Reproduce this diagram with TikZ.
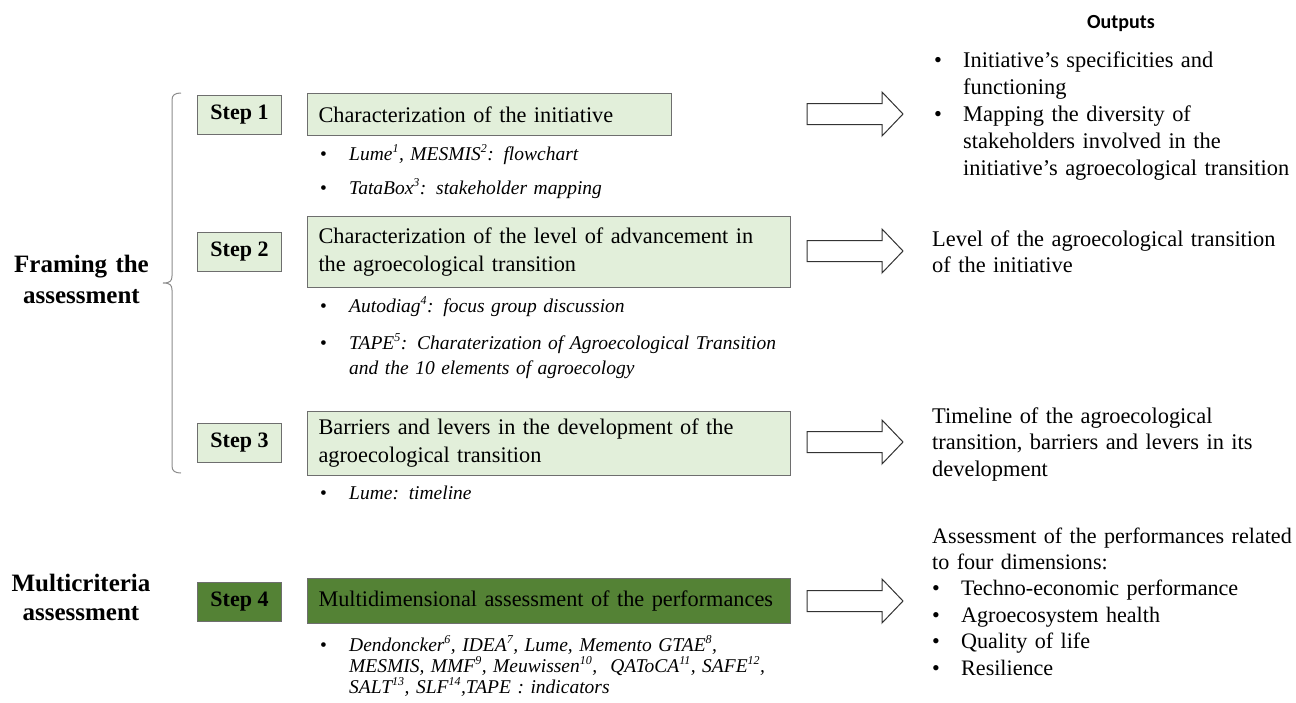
\documentclass[tikz,border=0pt]{standalone}
\usepackage{fontspec}
\setmainfont{Liberation Serif}
\newfontfamily\outfont{Carlito}
\definecolor{lgreen}{HTML}{E2EFDA}
\definecolor{dgreen}{HTML}{548235}
\definecolor{bordergray}{HTML}{6E6E6E}
\definecolor{bracegray}{HTML}{8C8C8C}
\newcommand{\bul}{\makebox[29pt][l]{\upshape\textbullet}}
\newcommand{\ind}{\hspace*{29pt}}
\newcommand{\sups}[1]{\textsuperscript{\fontsize{12}{12}\selectfont #1}}
\hyphenpenalty=10000
\exhyphenpenalty=10000
\begin{document}
\begin{tikzpicture}[x=1pt,y=-1pt,
  stepbox/.style={draw=bordergray, line width=1pt, fill=lgreen, minimum width=84pt, minimum height=39pt, inner sep=0pt, anchor=north west, font=\fontsize{22}{26}\selectfont\bfseries},
  mainbox/.style={draw=bordergray, line width=1pt, fill=lgreen, inner xsep=11pt, inner ysep=0pt, anchor=north west, align=left, font=\fontsize{22.3}{28}\selectfont},
  note/.style={anchor=base west, inner sep=0pt, align=left, text width=470pt, font=\fontsize{19.5}{25}\selectfont\itshape},
  outtext/.style={anchor=base west, inner sep=0pt, align=left, text width=362pt, font=\fontsize{22.4}{26.6}\selectfont},
  sidelabel/.style={anchor=base, inner sep=0pt, align=center, text width=170pt},
  arrowline/.style={draw=black!80, line width=1pt, fill=white},
  brace/.style={draw=bracegray, line width=1pt},
  blockarrow/.pic={\path[arrowline] (0,-10.5) -- (75,-10.5) -- (75,-22) -- (96,0) -- (75,22) -- (75,10.5) -- (0,10.5) -- cycle;}
]
\useasboundingbox (0,0) rectangle (1296,702);

% header
\node[anchor=base, inner sep=0pt, font=\outfont\bfseries\fontsize{20}{24}\selectfont] (outputs) at (1121,28) {Outputs};

% side labels
\node[sidelabel, font=\fontsize{25}{31}\selectfont\bfseries] (framing) at (81.5,272.5) {Framing the\\assessment};
\node[sidelabel, font=\fontsize{25}{29}\selectfont\bfseries] (multi) at (81,591.5) {Multicriteria\\assessment};

% brace
\draw[brace] (181,93) .. controls (175,93) and (172,95) .. (172,100) -- (172,276)
  .. controls (172,281) and (170,283) .. (163,283)
  .. controls (170,283) and (172,285) .. (172,290) -- (172,466)
  .. controls (172,471) and (175,473) .. (181,473);

% step boxes
\node[stepbox] (s1) at (197,95) {Step 1};
\node[stepbox] (s2) at (197,232) {Step 2};
\node[stepbox] (s3) at (197,423) {Step 3};
\node[stepbox, fill=dgreen] (s4) at (197,582) {Step 4};

% main boxes
\node[mainbox, text width=342pt, minimum height=42pt] (b1) at (307,93) {Characterization of the initiative};
\node[mainbox, text width=461pt, minimum height=71pt] (b2) at (307,216) {Characterization of the level of advancement in\\the agroecological transition};
\node[mainbox, text width=461pt, minimum height=64pt] (b3) at (307,411) {Barriers and levers in the development of the\\agroecological transition};
\node[mainbox, text width=461pt, minimum height=45pt, fill=dgreen] (b4) at (307,578) {Multidimensional assessment of the performances};

% tool notes
\node[note] (n1a) at (320,160) {\bul Lume\sups{1}, MESMIS\sups{2}: flowchart};
\node[note] (n1b) at (320,194) {\bul TataBox\sups{3}: stakeholder mapping};
\node[note] (n2a) at (320,312) {\bul Autodiag\sups{4}: focus group discussion};
\node[note] (n2b) at (320,349) {\bul TAPE\sups{5}: Charaterization of Agroecological Transition\\\ind and the 10 elements of agroecology};
\node[note] (n3a) at (320,499) {\bul Lume: timeline};
\node[note, font=\fontsize{19.5}{21}\selectfont\itshape] (n4a) at (320,651) {\bul Dendoncker\sups{6}, IDEA\sups{7}, Lume, Memento GTAE\sups{8},\\\ind MESMIS, MMF\sups{9}, Meuwissen\sups{10},\ \ QAToCA\sups{11}, SAFE\sups{12},\\\ind SALT\sups{13}, SLF\sups{14},TAPE : indicators};

% block arrows
\pic (a1) at (807,114) {blockarrow};
\pic (a2) at (807,251) {blockarrow};
\pic (a3) at (807,442) {blockarrow};
\pic (a4) at (807,601) {blockarrow};

% outputs
\node[outtext, font=\fontsize{22.4}{27}\selectfont] (o1) at (934,67) {\bul Initiative’s specificities and\\\ind functioning\\\bul Mapping the diversity of\\\ind stakeholders involved in the\\\ind initiative’s agroecological transition};
\node[outtext] (o2) at (932,246) {Level of the agroecological transition\\of the initiative};
\node[outtext] (o3) at (932,423) {Timeline of the agroecological\\transition, barriers and levers in its\\development};
\node[outtext, text width=420pt, font=\fontsize{22.1}{26.4}\selectfont] (o4) at (932,543) {Assessment of the performances related\\to four dimensions:\\\bul Techno-economic performance\\\bul Agroecosystem health\\\bul Quality of life\\\bul Resilience};
\end{tikzpicture}
\end{document}
